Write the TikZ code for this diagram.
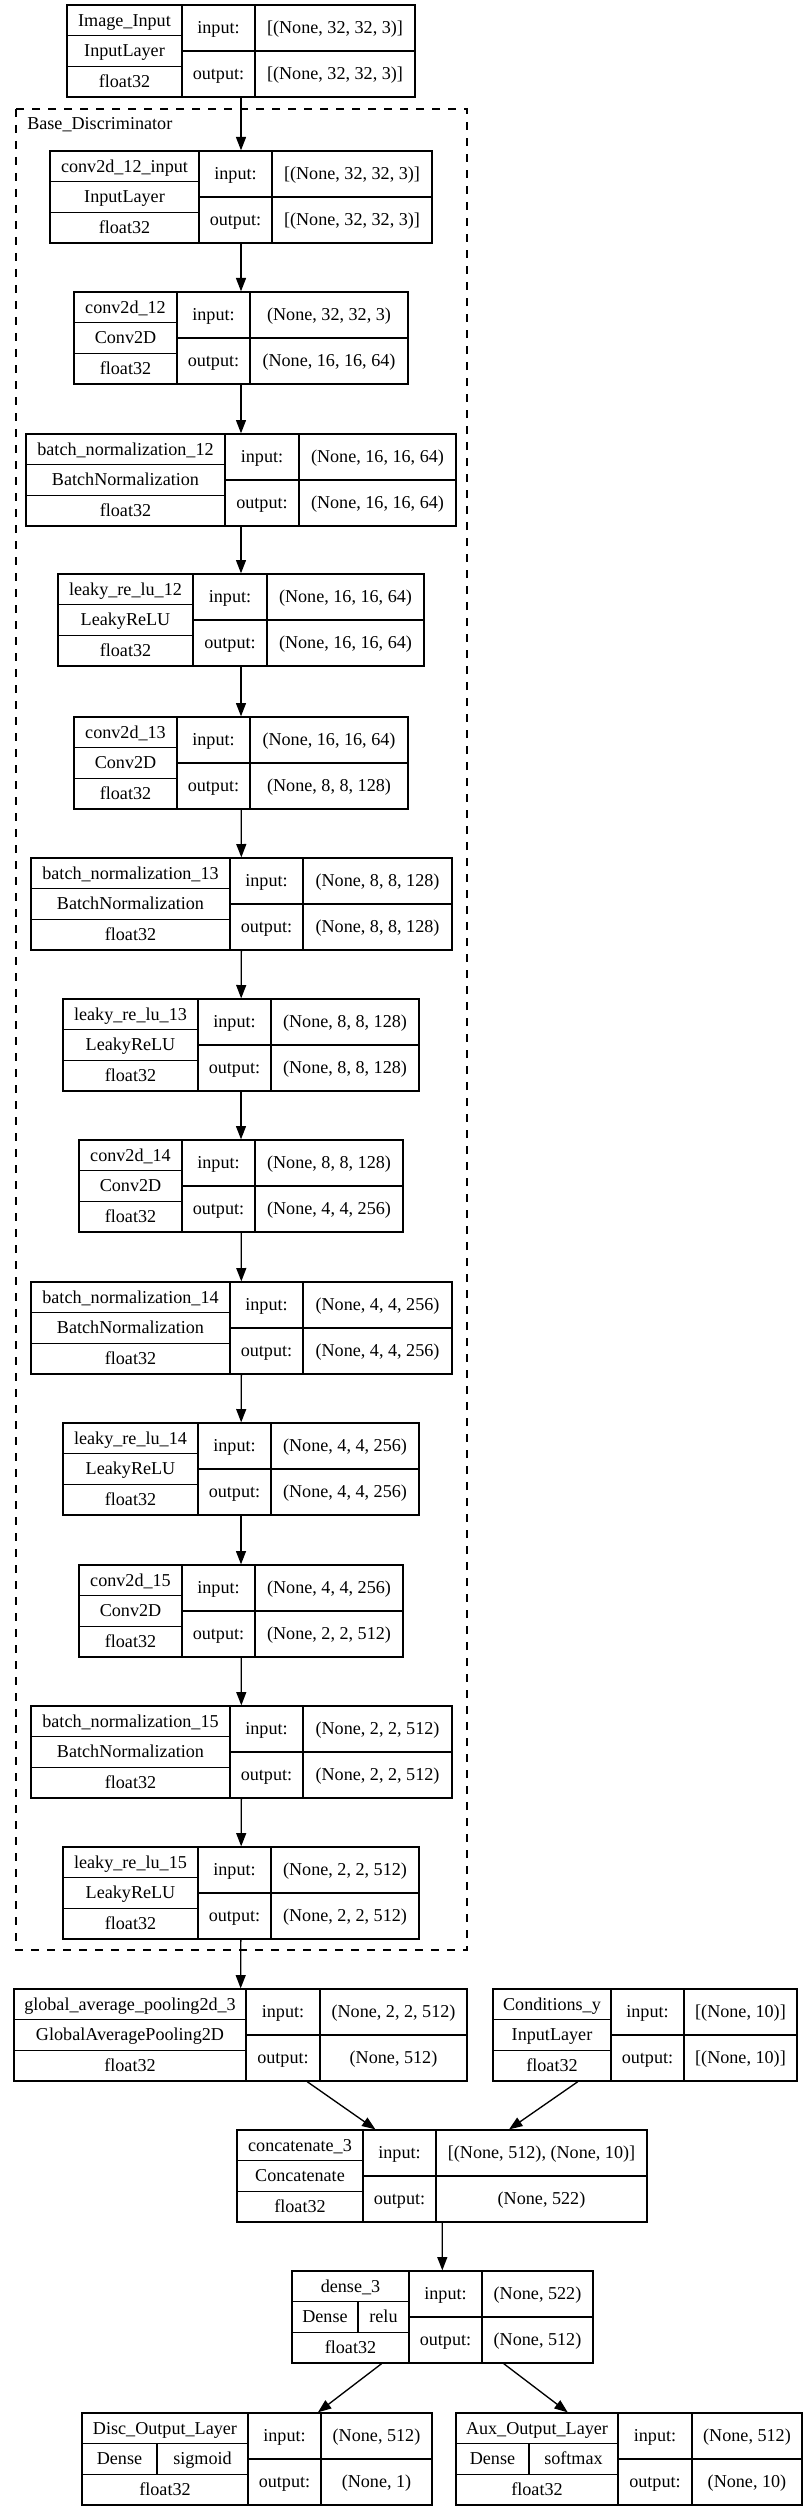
\documentclass[tikz,border=0pt]{standalone}
\usepackage{fontspec}
\setmainfont{Liberation Serif}
\usetikzlibrary{arrows.meta}

\tikzset{
  layer/.style={draw, line width=1pt, inner sep=0pt, minimum height=69pt},
  cell/.style={line width=1pt},
  lbl/.style={anchor=base, inner sep=0pt, font=\fontsize{13.6}{16}\selectfont},
  flow/.style={-{Triangle[length=10pt,width=7.5pt]}, line width=1pt},
}

\begin{document}
\begin{tikzpicture}[x=0.75pt, y=-0.75pt]
    \useasboundingbox (0,0) rectangle (808,2511);

    % Base_Discriminator cluster
    \draw[line width=1pt, dash pattern=on 6pt off 6pt] (16,109) rectangle (467,1950);
    \node[lbl, anchor=base west] (basedisc) at (27,130) {Base\_Discriminator};

    % Layers: name/left/split1/split2/right/top/title/class/input/output
    \foreach \nm/\xa/\xb/\xc/\xd/\yt/\ttl/\cls/\shin/\shout in {
        img/67/182/255/415/5/{Image\_Input}/{InputLayer}/{[(None, 32, 32, 3)]}/{[(None, 32, 32, 3)]},
        c12in/50/199/272/432/151/{conv2d\_12\_input}/{InputLayer}/{[(None, 32, 32, 3)]}/{[(None, 32, 32, 3)]},
        c12/74/177/250/408/292/{conv2d\_12}/{Conv2D}/{(None, 32, 32, 3)}/{(None, 16, 16, 64)},
        bn12/26/225/299/456/434/{batch\_normalization\_12}/{BatchNormalization}/{(None, 16, 16, 64)}/{(None, 16, 16, 64)},
        lr12/58/193/267/424/574/{leaky\_re\_lu\_12}/{LeakyReLU}/{(None, 16, 16, 64)}/{(None, 16, 16, 64)},
        c13/74/177/250/408/717/{conv2d\_13}/{Conv2D}/{(None, 16, 16, 64)}/{(None, 8, 8, 128)},
        bn13/31/230/303/452/858/{batch\_normalization\_13}/{BatchNormalization}/{(None, 8, 8, 128)}/{(None, 8, 8, 128)},
        lr13/63/198/271/419/999/{leaky\_re\_lu\_13}/{LeakyReLU}/{(None, 8, 8, 128)}/{(None, 8, 8, 128)},
        c14/79/182/255/403/1140/{conv2d\_14}/{Conv2D}/{(None, 8, 8, 128)}/{(None, 4, 4, 256)},
        bn14/31/230/303/452/1282/{batch\_normalization\_14}/{BatchNormalization}/{(None, 4, 4, 256)}/{(None, 4, 4, 256)},
        lr14/63/198/271/419/1423/{leaky\_re\_lu\_14}/{LeakyReLU}/{(None, 4, 4, 256)}/{(None, 4, 4, 256)},
        c15/79/182/255/403/1565/{conv2d\_15}/{Conv2D}/{(None, 4, 4, 256)}/{(None, 2, 2, 512)},
        bn15/31/230/303/452/1706/{batch\_normalization\_15}/{BatchNormalization}/{(None, 2, 2, 512)}/{(None, 2, 2, 512)},
        lr15/63/198/271/419/1847/{leaky\_re\_lu\_15}/{LeakyReLU}/{(None, 2, 2, 512)}/{(None, 2, 2, 512)},
        gap/14/246/320/467/1989/{global\_average\_pooling2d\_3}/{GlobalAveragePooling2D}/{(None, 2, 2, 512)}/{(None, 512)},
        cond/493/611/684/797/1989/{Conditions\_y}/{InputLayer}/{[(None, 10)]}/{[(None, 10)]},
        cat/237/363/436/647/2130/{concatenate\_3}/{Concatenate}/{[(None, 512), (None, 10)]}/{(None, 522)},
        dense/292/409/482/593/2271/{dense\_3}/{}/{(None, 522)}/{(None, 512)},
        disc/82/248/321/432/2413/{Disc\_Output\_Layer}/{}/{(None, 512)}/{(None, 1)},
        aux/456/618/692/802/2413/{Aux\_Output\_Layer}/{}/{(None, 512)}/{(None, 10)}
    }{
        \pgfmathsetmacro{\bw}{\xd-\xa}
        \pgfmathsetmacro{\boxx}{(\xa+\xd)/2}
        \pgfmathsetmacro{\colA}{(\xa+\xb)/2}
        \pgfmathsetmacro{\colB}{(\xb+\xc)/2}
        \pgfmathsetmacro{\colC}{(\xc+\xd)/2}
        \node[layer, minimum width=\bw*0.75pt] (\nm) at (\boxx,\yt+46) {};
        \draw[cell] (\xb,\yt) -- (\xb,\yt+92) (\xc,\yt) -- (\xc,\yt+92)
            (\xa,\yt+30.67) -- (\xb,\yt+30.67) (\xa,\yt+61.33) -- (\xb,\yt+61.33)
            (\xb,\yt+46) -- (\xd,\yt+46);
        \node[lbl] (\nm-name) at (\colA,\yt+21.1) {\ttl};
        \node[lbl] (\nm-class) at (\colA,\yt+51.8) {\cls};
        \node[lbl] (\nm-dtype) at (\colA,\yt+82.5) {float32};
        \node[lbl] (\nm-inlbl) at (\colB,\yt+28.8) {input:};
        \node[lbl] (\nm-in) at (\colC,\yt+28.8) {\shin};
        \node[lbl] (\nm-outlbl) at (\colB,\yt+74.8) {output:};
        \node[lbl] (\nm-out) at (\colC,\yt+74.8) {\shout};
    }

    % Dense layers: class and activation side by side
    \foreach \nm/\xa/\xb/\xs/\yt/\act in {
        dense/292/409/358/2271/relu,
        disc/82/248/157/2413/sigmoid,
        aux/456/618/529/2413/softmax
    }{
        \pgfmathsetmacro{\colA}{(\xa+\xs)/2}
        \pgfmathsetmacro{\colB}{(\xs+\xb)/2}
        \draw[cell] (\xs,\yt+30.67) -- (\xs,\yt+61.33);
        \node[lbl] (\nm-kind) at (\colA,\yt+51.8) {Dense};
        \node[lbl] (\nm-act) at (\colB,\yt+51.8) {\act};
    }

    % Connections
    \foreach \src/\dst in {img/c12in, c12in/c12, c12/bn12, bn12/lr12, lr12/c13, c13/bn13,
        bn13/lr13, lr13/c14, c14/bn14, bn14/lr14, lr14/c15, c15/bn15, bn15/lr15, lr15/gap,
        gap/cat, cond/cat, cat/dense, dense/disc, dense/aux}
        \draw[flow] (\src) -- (\dst);
\end{tikzpicture}
\end{document}
